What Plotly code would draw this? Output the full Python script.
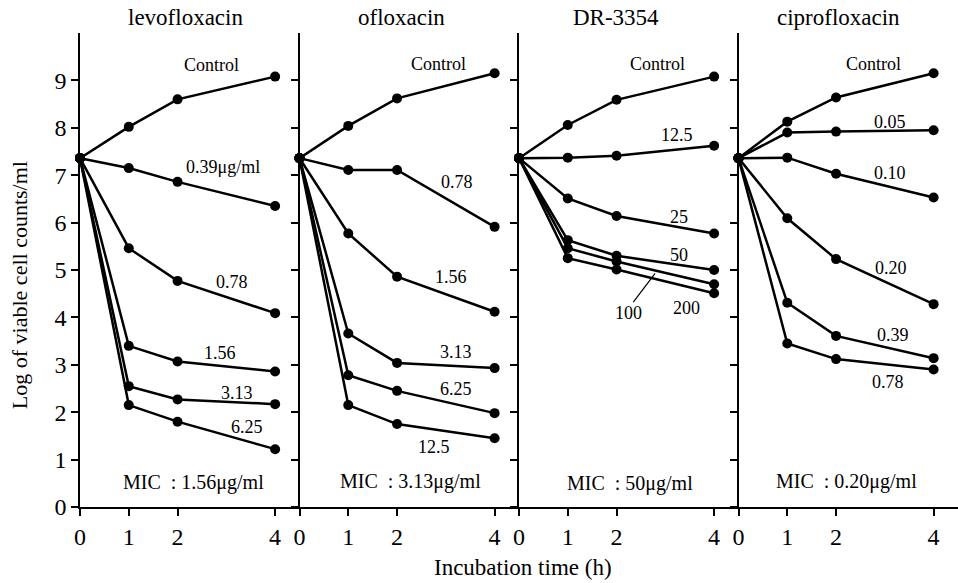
import plotly.graph_objects as go
from plotly.subplots import make_subplots

# ---------------- data ----------------
times = [0, 1, 2, 4]
x_tick_vals = [0, 1, 2, 4]
x_tick_text = ["0", "1", "2", "4"]
y_tick_vals = [0, 1, 2, 3, 4, 5, 6, 7, 8, 9]
y_tick_text = ["0", "1", "2", "3", "4", "5", "6", "7", "8", "9"]

drugs = ["levofloxacin", "ofloxacin", "DR-3354", "ciprofloxacin"]
mic_texts = ["MIC\u00a0\u00a0: 1.56μg/ml", "MIC\u00a0\u00a0: 3.13μg/ml",
             "MIC\u00a0\u00a0: 50μg/ml", "MIC\u00a0\u00a0: 0.20μg/ml"]

# levofloxacin
levo_names = ["Control", "0.39μg/ml", "0.78", "1.56", "3.13", "6.25"]
levo_control = [7.36, 8.02, 8.60, 9.08]
levo_039 = [7.36, 7.15, 6.86, 6.35]
levo_078 = [7.36, 5.46, 4.77, 4.09]
levo_156 = [7.36, 3.40, 3.07, 2.86]
levo_313 = [7.36, 2.55, 2.27, 2.17]
levo_625 = [7.36, 2.15, 1.80, 1.22]

# ofloxacin
oflo_names = ["Control", "0.78", "1.56", "3.13", "6.25", "12.5"]
oflo_control = [7.36, 8.04, 8.62, 9.15]
oflo_078 = [7.36, 7.11, 7.11, 5.91]
oflo_156 = [7.36, 5.77, 4.86, 4.12]
oflo_313 = [7.36, 3.66, 3.04, 2.93]
oflo_625 = [7.36, 2.78, 2.45, 1.98]
oflo_125 = [7.36, 2.15, 1.75, 1.45]

# DR-3354
dr_names = ["Control", "12.5", "25", "50", "100", "200"]
dr_control = [7.36, 8.06, 8.59, 9.08]
dr_125 = [7.36, 7.37, 7.41, 7.62]
dr_25 = [7.36, 6.51, 6.14, 5.77]
dr_50 = [7.36, 5.63, 5.30, 5.00]
dr_100 = [7.36, 5.46, 5.18, 4.70]
dr_200 = [7.36, 5.25, 5.01, 4.51]

# ciprofloxacin
cipro_names = ["Control", "0.05", "0.10", "0.20", "0.39", "0.78"]
cipro_control = [7.36, 8.13, 8.64, 9.15]
cipro_005 = [7.36, 7.90, 7.92, 7.95]
cipro_010 = [7.36, 7.37, 7.03, 6.53]
cipro_020 = [7.36, 6.09, 5.23, 4.28]
cipro_039 = [7.36, 4.31, 3.61, 3.14]
cipro_078 = [7.36, 3.45, 3.12, 2.90]

panel_series = [
    [levo_control, levo_039, levo_078, levo_156, levo_313, levo_625],
    [oflo_control, oflo_078, oflo_156, oflo_313, oflo_625, oflo_125],
    [dr_control, dr_125, dr_25, dr_50, dr_100, dr_200],
    [cipro_control, cipro_005, cipro_010, cipro_020, cipro_039, cipro_078],
]
panel_names = [levo_names, oflo_names, dr_names, cipro_names]

# label placement (layout, not data)
label_pos = [
    [(2.70, 9.32), (2.94, 7.18), (3.11, 4.75), (2.87, 3.24), (3.21, 2.40), (3.42, 1.69)],
    [(2.84, 9.35), (3.23, 6.86), (3.10, 4.86), (3.20, 3.28), (3.20, 2.50), (2.75, 1.27)],
    [(2.84, 9.35), (3.23, 7.85), (3.27, 6.12), (3.27, 5.32), (2.24, 4.09), (3.44, 4.19)],
    [(2.77, 9.35), (3.10, 8.13), (3.11, 7.04), (3.13, 5.04), (3.17, 3.63), (3.06, 2.64)],
]
mic_pos = [(2.32, 0.51), (2.28, 0.53), (2.28, 0.50), (2.21, 0.53)]
title_x = [0.1196, 0.366, 0.610, 0.864]

FONT = "Liberation Serif"

fig = make_subplots(rows=1, cols=4, shared_yaxes=True, horizontal_spacing=0)

for p in range(4):
    col = p + 1
    for s, ys in enumerate(panel_series[p]):
        fig.add_trace(
            go.Scatter(
                x=times, y=ys, mode="lines+markers",
                name=f"{drugs[p]} {panel_names[p][s]}",
                line=dict(color="black", width=2.5),
                marker=dict(color="black", size=10),
                showlegend=False,
                cliponaxis=False,
            ),
            row=1, col=col,
        )
    xref = "x" if p == 0 else f"x{p + 1}"
    yref = "y" if p == 0 else f"y{p + 1}"
    for s, name in enumerate(panel_names[p]):
        lx, ly = label_pos[p][s]
        if p == 2 and name == "100":
            fig.add_annotation(
                x=2.79, y=4.93, ax=lx + 0.08, ay=ly + 0.2,
                xref=xref, yref=yref, axref=xref, ayref=yref,
                text="", showarrow=True, arrowhead=0, arrowwidth=1.2,
                arrowcolor="black", standoff=0, startstandoff=0,
            )
        fig.add_annotation(
            x=lx, y=ly, xref=xref, yref=yref, text=name, showarrow=False,
            xanchor="center", yanchor="middle",
            font=dict(family=FONT, size=18, color="black"),
        )
    mx, my = mic_pos[p]
    fig.add_annotation(
        x=mx, y=my, xref=xref, yref=yref, text=mic_texts[p], showarrow=False,
        xanchor="center", yanchor="middle",
        font=dict(family=FONT, size=20, color="black"),
    )
    fig.add_annotation(
        x=title_x[p], y=1.032, xref="paper", yref="paper", text=drugs[p],
        xanchor="center", yanchor="middle",
        showarrow=False, font=dict(family=FONT, size=23, color="black"),
    )

    fig.update_xaxes(
        range=[0, 4.5], tickvals=x_tick_vals, ticktext=x_tick_text,
        ticks="outside", ticklen=7, tickwidth=1.5, tickcolor="black",
        showline=True, linecolor="black", linewidth=1.5,
        showgrid=False, zeroline=False,
        tickfont=dict(family=FONT, size=24, color="black"),
        row=1, col=col,
    )
    fig.update_yaxes(
        range=[0, 10], tickvals=y_tick_vals, ticktext=y_tick_text,
        ticks="outside", ticklen=7, tickwidth=1.5, tickcolor="black",
        showline=True, linecolor="black", linewidth=1.5,
        showgrid=False, zeroline=False,
        showticklabels=(p == 0),
        tickfont=dict(family=FONT, size=24, color="black"),
        row=1, col=col,
    )

fig.add_annotation(
    x=-0.0695, y=0.468, xref="paper", yref="paper",
    xanchor="center", yanchor="middle",
    text="Log of viable cell counts/ml", textangle=-90, showarrow=False,
    font=dict(family=FONT, size=22, color="black"),
)
fig.add_annotation(
    x=0.504, y=-0.1266, xref="paper", yref="paper",
    xanchor="center", yanchor="middle",
    text="Incubation time (h)", showarrow=False,
    font=dict(family=FONT, size=23, color="black"),
)

fig.update_layout(
    width=958, height=583,
    margin=dict(l=80, r=0, t=33, b=76),
    paper_bgcolor="white", plot_bgcolor="white",
    showlegend=False,
)

fig.write_html("out.html")
